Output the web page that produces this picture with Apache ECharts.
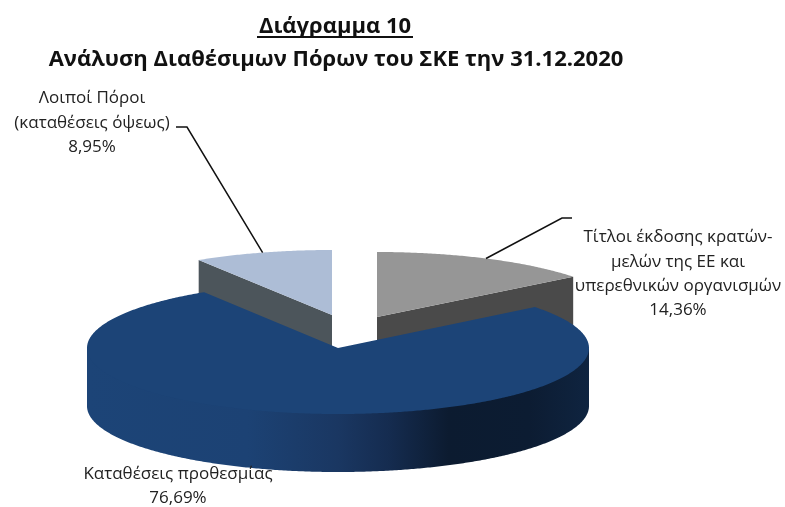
<!DOCTYPE html>
<html>
<head>
<meta charset="utf-8">
<style>html,body{margin:0;padding:0;background:#fff}#c{width:785px;height:507px}</style>
<script src="https://cdn.jsdelivr.net/npm/echarts@6/dist/echarts.min.js"></script>
</head>
<body>
<div id="c"></div>
<script>
const titleLine1 = 'Διάγραμμα 10';
const titleLine2 = 'Ανάλυση Διαθέσιμων Πόρων του ΣΚΕ την 31.12.2020';
const categories = [
  'Τίτλοι έκδοσης κρατών-\nμελών της ΕΕ και\nυπερεθνικών οργανισμών',
  'Καταθέσεις προθεσμίας',
  'Λοιποί Πόροι\n(καταθέσεις όψεως)'
];
const values = [14.36, 76.69, 8.95];

// layout of the drawing, kept apart from the data
const centers = [[377, 317], [338, 348], [332, 315]];
const radiiX = [250, 251, 250];
const radiiY = [65, 66, 65];
const depth = 58;
const topColors = ['#969696', '#1c4477', '#adbdd6'];
const wallColors = ['#4a4a4a', '#1c4477', '#4c555b'];
const labelPos = [[678, 274], [178, 486], [92, 123]];
const leaderElbow = [[562, 218], null, [187, 127]];
const leaderEnd = [[572, 218], null, [176, 127]];
const font = '17px "Open Sans"';

const blueSide = new echarts.graphic.LinearGradient(0, 0, 1, 0, [
  { offset: 0, color: '#1c4477' },
  { offset: 0.32, color: '#1c4274' },
  { offset: 0.5, color: '#1a3762' },
  { offset: 0.6, color: '#152c50' },
  { offset: 0.72, color: '#0c1b30' },
  { offset: 0.88, color: '#0c1c32' },
  { offset: 1, color: '#0f2440' }
]);

const total = values.reduce((a, b) => a + b, 0);
function startAngle(i) {
  let s = 0;
  for (let k = 0; k < i; k++) s += values[k];
  return 90 - s / total * 360;
}
function pt(i, deg, drop) {
  const r = deg * Math.PI / 180;
  return [centers[i][0] + radiiX[i] * Math.cos(r),
          centers[i][1] - radiiY[i] * Math.sin(r) + (drop || 0)];
}
function arc(i, from, to, drop) {
  const n = Math.max(2, Math.ceil(Math.abs(to - from) * 2));
  const out = [];
  for (let k = 0; k <= n; k++) out.push(pt(i, from + (to - from) * k / n, drop));
  return out;
}

function renderItem(params, api) {
  const i = params.dataIndex;
  const v = api.value(0);
  const a0 = startAngle(i);
  const a1 = a0 - v / total * 360;
  const c = centers[i];
  const children = [];
  const base = i === 1 ? 10 : 1;

  if (i !== 1) {
    // cut wall facing the viewer on each small wedge
    const edge = i === 0 ? a1 : a0;
    children.push({
      type: 'polygon', z2: base,
      shape: { points: [c, pt(i, edge), pt(i, edge, depth), [c[0], c[1] + depth]] },
      style: { fill: wallColors[i] }
    });
  } else {
    // outer wall: front half of the ellipse, its top hidden below the face
    const low = arc(i, -180, 0, depth);
    children.push({
      type: 'polygon', z2: base,
      shape: { points: low.concat([pt(i, 0), pt(i, -180)]) },
      style: { fill: blueSide }
    });
  }
  // top face
  children.push({
    type: 'polygon', z2: base + 1,
    shape: { points: [c].concat(arc(i, a0, a1, 0)) },
    style: { fill: topColors[i] }
  });

  // leader line
  if (leaderElbow[i]) {
    const m = pt(i, (a0 + a1) / 2);
    children.push({
      type: 'polyline', z2: 5,
      shape: { points: [m, leaderElbow[i], leaderEnd[i]] },
      style: { stroke: '#111', lineWidth: 1.5, fill: null }
    });
  }
  // label
  children.push({
    type: 'text', z2: 30,
    style: {
      text: categories[i] + '\n' + v.toFixed(2).replace('.', ',') + '%',
      x: labelPos[i][0], y: labelPos[i][1],
      align: 'center', verticalAlign: 'middle',
      font: font, lineHeight: 24.4, fill: '#222'
    }
  });
  return { type: 'group', children };
}

const chart = echarts.init(document.getElementById('c'), null, { renderer: 'canvas' });
chart.setOption({
  animation: false,
  backgroundColor: '#fff',
  title: [
    { text: titleLine1, left: 330, top: 11, textAlign: 'center',
      textStyle: { fontFamily: 'Open Sans', fontWeight: 'bold', fontSize: 22, color: '#111' } },
    { text: titleLine2, left: 331, top: 44, textAlign: 'center',
      textStyle: { fontFamily: 'Open Sans', fontWeight: 'bold', fontSize: 22, color: '#111' } }
  ],
  graphic: [{ type: 'line', shape: { x1: 257, y1: 37, x2: 413, y2: 37 }, style: { stroke: '#111', lineWidth: 2 } }],
  series: [{
    type: 'custom',
    coordinateSystem: 'none',
    renderItem,
    data: values.map((v, i) => [v, i])
  }]
});
</script>
</body>
</html>
